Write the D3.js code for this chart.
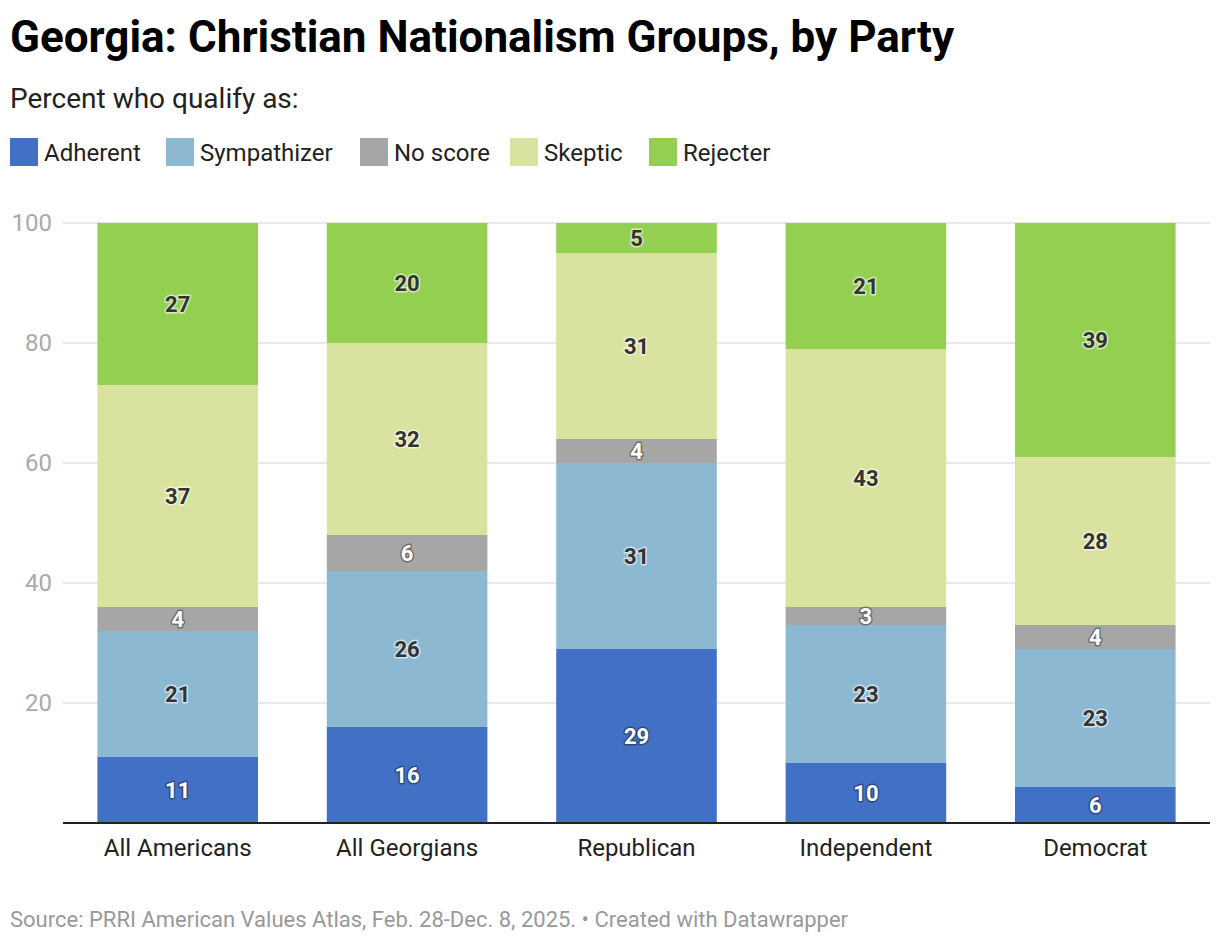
<!DOCTYPE html>
<html>
<head>
<meta charset="utf-8">
<script src="https://cdn.jsdelivr.net/npm/d3@7"></script>
<style>
  body { margin: 0; background: #fff; font-family: Roboto, "Noto Sans", sans-serif; }
  svg { display: block; }
</style>
</head>
<body>
<div id="chart"></div>
<script>
const groups = ['All Americans', 'All Georgians', 'Republican', 'Independent', 'Democrat'];
const seriesNames = ['Adherent', 'Sympathizer', 'No score', 'Skeptic', 'Rejecter'];
const seriesColors = ['#4270c4', '#8cb8d2', '#a6a6a6', '#d9e29e', '#93d052'];
const adherent    = [11, 16, 29, 10, 6];
const sympathizer = [21, 26, 31, 23, 23];
const noScore     = [4, 6, 4, 3, 4];
const skeptic     = [37, 32, 31, 43, 28];
const rejecter    = [27, 20, 5, 21, 39];
const yTicks = [20, 40, 60, 80, 100];
const darkLabel = [false, true, false, true, true]; // label colour per series

(function(){
    const width = 1220, height = 944;
    const svg = d3.select('#chart').append('svg').attr('width', width).attr('height', height);

    // title + subtitle
    svg.append('text').attr('x', 10).attr('y', 52)
        .attr('font-size', '44px').attr('font-weight', 700).attr('fill', '#000')
        .text('Georgia: Christian Nationalism Groups, by Party');
    svg.append('text').attr('x', 10).attr('y', 108)
        .attr('font-size', '28px').attr('fill', '#222')
        .text('Percent who qualify as:');

    // legend
    const legendX = [10, 166, 360, 510, 649];
    const legend = svg.append('g').selectAll('g').data(seriesNames).join('g')
        .attr('transform', (d, i) => `translate(${legendX[i]},138)`);
    legend.append('rect').attr('width', 28).attr('height', 28).attr('fill', (d, i) => seriesColors[i]);
    legend.append('text').attr('x', 34).attr('y', 23).attr('font-size', '24px').attr('fill', '#222').text(d => d);

    // data table
    const cols = [adherent, sympathizer, noScore, skeptic, rejecter];
    const rows = groups.map((g, i) => {
        const r = {group: g};
        seriesNames.forEach((s, j) => r[s] = cols[j][i]);
        return r;
    });
    const stacked = d3.stack().keys(seriesNames)(rows);

    const left = 63, right = 1210, top = 223, bottom = 823;
    const x = d3.scaleBand().domain(groups).range([left, right]).paddingInner(0.3).paddingOuter(0.15);
    const y = d3.scaleLinear().domain([0, 100]).range([bottom, top]);

    // grid
    const grid = svg.append('g');
    grid.selectAll('line').data(yTicks).join('line')
        .attr('x1', left).attr('x2', right)
        .attr('y1', d => y(d)).attr('y2', d => y(d))
        .attr('stroke', '#e2e2e2').attr('stroke-width', 1.5);
    grid.selectAll('text').data(yTicks).join('text')
        .attr('x', 52).attr('y', d => y(d) + 8)
        .attr('text-anchor', 'end').attr('font-size', '24px').attr('fill', '#aaa')
        .text(d => d);

    // bars
    const layers = svg.append('g').selectAll('g').data(stacked).join('g')
        .attr('fill', (d, i) => seriesColors[i]);
    layers.selectAll('rect').data(d => d).join('rect')
        .attr('x', d => x(d.data.group))
        .attr('width', x.bandwidth())
        .attr('y', d => y(d[1]))
        .attr('height', d => y(d[0]) - y(d[1]));

    // value labels
    const labelLayers = svg.append('g').selectAll('g').data(stacked).join('g');
    labelLayers.each(function(layer, i){
        const g = d3.select(this);
        const dark = darkLabel[i];
        g.selectAll('text').data(layer).join('text')
            .attr('x', d => x(d.data.group) + x.bandwidth() / 2)
            .attr('y', d => (y(d[0]) + y(d[1])) / 2 + 8)
            .attr('text-anchor', 'middle')
            .attr('font-size', '22px').attr('font-weight', 700)
            .attr('fill', dark ? '#333' : '#fff')
            .attr('stroke', dark ? 'rgba(255,255,255,0.6)' : 'rgba(0,0,0,0.35)')
            .attr('stroke-width', 3).attr('stroke-linejoin', 'round')
            .attr('paint-order', 'stroke')
            .text(d => d[1] - d[0]);
    });

    // baseline + x labels
    svg.append('line').attr('x1', left).attr('x2', right).attr('y1', bottom).attr('y2', bottom)
        .attr('stroke', '#222').attr('stroke-width', 2);
    svg.append('g').selectAll('text').data(groups).join('text')
        .attr('x', d => x(d) + x.bandwidth() / 2).attr('y', 856)
        .attr('text-anchor', 'middle').attr('font-size', '24px').attr('fill', '#222')
        .text(d => d);

    // footer
    svg.append('text').attr('x', 10).attr('y', 927)
        .attr('font-size', '22px').attr('fill', '#999')
        .text('Source: PRRI American Values Atlas, Feb. 28-Dec. 8, 2025. • Created with Datawrapper');
})();
</script>
</body>
</html>
